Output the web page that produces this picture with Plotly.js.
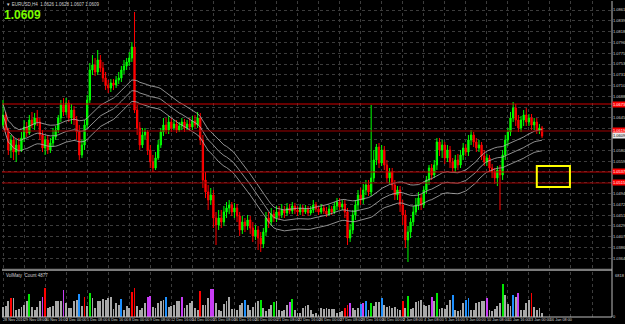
<!DOCTYPE html>
<html><head><meta charset="utf-8">
<script src="https://cdn.plot.ly/plotly-3.0.1.min.js"></script>
<style>html,body{margin:0;padding:0;background:#000;overflow:hidden}#chart{width:625px;height:324px}</style>
</head><body><div id="chart"></div>
<script>
// Prices are stored in points (1 point = 0.0001)
const PT = 0.0001;
const openPts = [
10631,10651,10621,10581,10601,10577,10591,10581,10605,10627,
10615,10641,10631,10645,10637,10611,10585,10601,10581,10595,
10607,10621,10645,10671,10657,10675,10645,10661,10641,10617,
10571,10591,10631,10681,10741,10751,10737,10761,10745,10725,
10711,10705,10715,10711,10721,10725,10741,10749,10757,10765,
10787,10661,10625,10591,10611,10617,10581,10557,10545,10565,
10591,10617,10631,10621,10637,10625,10633,10621,10629,10637,
10625,10633,10627,10639,10631,10645,10601,10521,10497,10481,
10491,10445,10431,10445,10437,10457,10465,10471,10457,10465,
10449,10421,10437,10429,10441,10425,10409,10421,10405,10393,
10417,10445,10437,10453,10445,10457,10451,10461,10455,10465,
10459,10469,10461,10457,10465,10457,10463,10455,10461,10471,
10463,10457,10465,10459,10453,10463,10457,10469,10477,10467,
10473,10457,10405,10421,10451,10471,10491,10481,10501,10511,
10497,10525,10561,10587,10555,10581,10551,10525,10537,10511,
10491,10501,10471,10451,10401,10417,10437,10457,10471,10485,
10471,10501,10521,10545,10531,10551,10597,10581,10591,10565,
10581,10557,10545,10561,10551,10571,10585,10577,10601,10611,
10597,10585,10591,10569,10557,10565,10545,10537,10525,10541,
10531,10571,10601,10617,10645,10665,10641,10625,10641,10651,
10637,10645,10631,10637,10621,10625];
const highPts = [
10681,10657,10625,10611,10609,10601,10605,10617,10641,10637,
10651,10657,10655,10661,10645,10621,10609,10611,10605,10625,
10629,10651,10681,10685,10685,10681,10673,10669,10649,10631,
10601,10641,10691,10755,10771,10765,10781,10771,10757,10737,
10721,10723,10723,10729,10737,10749,10761,10765,10777,10797,
10857,10671,10637,10625,10625,10621,10591,10571,10577,10601,
10625,10645,10645,10649,10645,10641,10641,10637,10645,10643,
10641,10645,10649,10651,10657,10655,10611,10537,10511,10505,
10501,10457,10461,10461,10469,10477,10481,10477,10475,10473,
10457,10449,10445,10451,10449,10437,10431,10429,10417,10425,
10457,10457,10465,10461,10469,10469,10473,10469,10475,10473,
10477,10475,10469,10473,10471,10471,10469,10469,10481,10477,
10469,10473,10471,10467,10471,10469,10477,10485,10485,10481,
10481,10465,10433,10461,10481,10501,10505,10513,10521,10521,
10671,10581,10593,10595,10591,10589,10561,10545,10545,10521,
10509,10509,10481,10461,10429,10445,10469,10485,10497,10493,
10509,10529,10551,10553,10561,10605,10605,10601,10597,10591,
10589,10565,10571,10573,10581,10595,10593,10611,10621,10617,
10605,10601,10597,10581,10573,10571,10553,10545,10549,10551,
10581,10611,10625,10657,10677,10673,10651,10649,10661,10665,
10653,10653,10645,10645,10633,10629];
const lowPts = [
10625,10615,10571,10565,10561,10557,10571,10577,10597,10607,
10611,10625,10621,10629,10601,10577,10571,10573,10575,10587,
10601,10615,10637,10649,10651,10637,10633,10631,10601,10561,
10565,10581,10625,10675,10731,10729,10731,10737,10717,10701,
10695,10697,10701,10705,10713,10717,10733,10741,10749,10757,
10655,10611,10581,10585,10601,10571,10545,10537,10541,10561,
10585,10609,10613,10613,10617,10621,10615,10617,10621,10617,
10621,10619,10621,10625,10625,10591,10505,10485,10461,10471,
10425,10391,10421,10425,10429,10445,10453,10449,10445,10437,
10409,10413,10417,10421,10413,10397,10401,10381,10377,10385,
10409,10425,10429,10437,10437,10441,10445,10445,10449,10453,
10453,10453,10449,10451,10449,10453,10449,10451,10455,10457,
10451,10453,10453,10447,10449,10451,10453,10461,10461,10461,
10445,10391,10397,10413,10441,10461,10471,10473,10491,10489,
10489,10517,10551,10545,10549,10541,10517,10513,10501,10481,
10481,10457,10431,10385,10357,10405,10429,10451,10461,10461,
10465,10493,10511,10521,10525,10541,10569,10565,10553,10557,
10545,10537,10537,10541,10545,10561,10569,10569,10591,10587,
10577,10577,10561,10549,10549,10537,10525,10513,10509,10461,
10521,10561,10589,10609,10637,10629,10617,10617,10629,10629,
10629,10621,10621,10613,10613,10605];
const closePts = [
10651,10621,10581,10601,10577,10591,10581,10605,10627,10615,
10641,10631,10645,10637,10611,10585,10601,10581,10595,10607,
10621,10645,10671,10657,10675,10645,10661,10641,10617,10571,
10591,10631,10681,10741,10751,10737,10761,10745,10725,10711,
10705,10715,10711,10721,10725,10741,10749,10757,10765,10787,
10661,10625,10591,10611,10617,10581,10557,10545,10565,10591,
10617,10631,10621,10637,10625,10633,10621,10629,10637,10625,
10633,10627,10639,10631,10645,10601,10521,10497,10481,10491,
10445,10431,10445,10437,10457,10465,10471,10457,10465,10449,
10421,10437,10429,10441,10425,10409,10421,10405,10393,10417,
10445,10437,10453,10445,10457,10451,10461,10455,10465,10459,
10469,10461,10457,10465,10457,10463,10455,10461,10471,10463,
10457,10465,10459,10453,10463,10457,10469,10477,10467,10473,
10457,10405,10421,10451,10471,10491,10481,10501,10511,10497,
10525,10561,10587,10555,10581,10551,10525,10537,10511,10491,
10501,10471,10451,10401,10417,10437,10457,10471,10485,10471,
10501,10521,10545,10531,10551,10597,10581,10591,10565,10581,
10557,10545,10561,10551,10571,10585,10577,10601,10611,10597,
10585,10591,10569,10557,10565,10545,10537,10525,10541,10531,
10571,10601,10617,10645,10665,10641,10625,10641,10651,10637,
10645,10631,10637,10621,10625,10609];
const volumes = [
1450,1600,2350,2850,2950,1100,1250,1450,1850,2350,
3450,1450,1100,1450,2350,3100,4350,1350,1450,1600,
2450,2450,2450,4100,2100,1350,1350,2350,2600,3450,
1600,3100,1600,3600,2850,1350,2350,2350,2750,2600,
2850,3100,1250,2100,1850,2750,1100,1600,1350,3850,
4350,1600,1100,1350,2100,3100,3250,1450,1350,2100,
2350,2600,3100,1450,1600,1850,2350,2350,3050,1350,
1850,2100,2350,1350,1100,3950,1850,1850,2850,4250,
4250,2100,1100,950,1950,2350,3100,1250,1250,1100,
1850,2100,2600,1850,1100,1450,2100,2450,2600,1350,
850,1250,1850,2250,2450,1100,850,1100,1850,2250,
2750,1100,600,600,1350,1600,1750,1100,450,600,
250,1350,1250,1350,1250,1250,1250,600,750,850,
1350,1850,2100,1350,1100,1350,1950,2100,2350,1100,
2100,1600,2250,2250,2850,1850,1450,1600,1350,1450,
1250,1100,2350,1350,3250,1200,1350,2200,2350,2600,
1750,1600,1850,3100,2450,3600,1250,1350,1250,1850,
2600,3350,1100,850,1100,2100,2600,2850,1100,1100,
2100,2250,2450,2350,2950,1100,850,1250,1600,2100,
5000,3350,1950,1600,3350,3050,3700,1100,1100,2100,
2600,3700,1450,1100,1350,600];
const volRedBars = [3,16,31,49,50,75,130,131,152,201];
const volGreenBars = [10,33,98,103,110,140,154,165,190];
const volBlueBars = [29,45,62,92,136,138,144,171,176,177,194];
const volMagentaBars = [15,23,55,56,68,79,80,109,132,137,163,184,196];

const dateTickBars = [0,8,16,24,32,40,48,56,64,72,80,88,96,104,112,120,128,136,144,152,160,168,176,184,192,200,208,216,224];
const dateTickText = ["28 Nov 2016","29 Nov 08:00","30 Nov 16:00","2 Dec 00:00","5 Dec 08:00","6 Dec 16:00","8 Dec 00:00","9 Dec 08:00","12 Dec 16:00","14 Dec 00:00","15 Dec 08:00","16 Dec 16:00","20 Dec 00:00","21 Dec 08:00","22 Dec 16:00","26 Dec 00:00","27 Dec 08:00","28 Dec 16:00","30 Dec 00:00","2 Jan 08:00","4 Jan 08:00","5 Jan 16:00","9 Jan 00:00","10 Jan 08:00","11 Jan 16:00","13 Jan 00:00","16 Jan 08:00","",""];

const levelPrices = [1.0673, 1.0619, 1.0537, 1.0515];
const lastPrice = 1.0609;
const titleText = "EURUSD,H4  1.0626 1.0628 1.0607 1.0609";
const volLabel = "VolMaty  Count 4877";
const volTopLabel = "6818";
const zoneBars = [203, 215.6];
const zonePrices = [1.0507, 1.0549];
const priceTickStart = 1.0861, priceTickStep = 0.00216, priceTickCount = 25;

const toPrice = a => a.map(v => v * PT);
const barIdx = closePts.map((_, i) => i);
const maPeriod = 28, envPct = 0.002;
const ma = closePts.map((_, i) => {
  const s = Math.max(0, i - maPeriod + 1); let sum = 0;
  for (let k = s; k <= i; k++) sum += closePts[k];
  return sum / (i - s + 1) * PT;
});
const volColors = volumes.map((_, i) =>
  volRedBars.includes(i) ? '#ff0000' : volGreenBars.includes(i) ? '#00e600' :
  volBlueBars.includes(i) ? '#1e90ff' : volMagentaBars.includes(i) ? '#c83cf5' : '#a8a8a8');

// price grid ticks; labels hidden where a level / last-price tag covers them
const allTicks = [];
for (let k = 0; k < priceTickCount; k++) allTicks.push(+(priceTickStart - k * priceTickStep).toFixed(5));
const tagPrices = levelPrices.concat([lastPrice]);
const tickText = allTicks.map(t => tagPrices.some(p => Math.abs(p - t) < 0.0011) ? '' : t.toFixed(4));

const envLine = {color:'#b4b4b4', width:0.8};
const traces = [
  {type:'scatter', mode:'lines', x:barIdx, y:ma.map(v=>v*(1+envPct)), line:envLine, hoverinfo:'skip', xaxis:'x', yaxis:'y'},
  {type:'scatter', mode:'lines', x:barIdx, y:ma, line:envLine, hoverinfo:'skip', xaxis:'x', yaxis:'y'},
  {type:'scatter', mode:'lines', x:barIdx, y:ma.map(v=>v*(1-envPct)), line:envLine, hoverinfo:'skip', xaxis:'x', yaxis:'y'},
  {type:'candlestick', x:barIdx, open:toPrice(openPts), high:toPrice(highPts), low:toPrice(lowPts), close:toPrice(closePts),
   increasing:{line:{color:'#00ff00', width:1}, fillcolor:'#00ff00'},
   decreasing:{line:{color:'#ff0000', width:1}, fillcolor:'#ff0000'},
   whiskerwidth:0, hoverinfo:'skip', xaxis:'x', yaxis:'y'},
  {type:'bar', x:barIdx, y:volumes, marker:{color:volColors, line:{width:0}}, width:0.7, hoverinfo:'skip', xaxis:'x', yaxis:'y2'}
];

const gridC = '#3c3c3c';
const shapes = [];
const levelColors = ['#d00000','#a00000','#c00000','#a00000'];
levelPrices.forEach((p, k) => shapes.push({type:'line', xref:'paper', x0:0, x1:1, yref:'y', y0:p, y1:p, line:{color:levelColors[k], width:1}}));
shapes.push({type:'rect', xref:'x', x0:zoneBars[0], x1:zoneBars[1], yref:'y', y0:zonePrices[0], y1:zonePrices[1], line:{color:'#ffff00', width:2}});
shapes.push({type:'rect', xref:'paper', x0:0, x1:1, yref:'paper', y0:0.1456, y1:0.1525, fillcolor:'#7a7a7a', line:{width:0}});
shapes.push({type:'line', xref:'paper', x0:1, x1:1, yref:'paper', y0:0, y1:1, line:{color:'#bdbdbd', width:1}});
shapes.push({type:'line', xref:'paper', x0:0, x1:1, yref:'paper', y0:0, y1:0, line:{color:'#bdbdbd', width:1}});

const smallFont = {family:'Liberation Sans', size:4.5, color:'#d0d0d0'};
const dateFont = {family:'Liberation Sans Narrow, Liberation Sans', size:3.8, color:'#d0d0d0'};
const annotations = [
  {xref:'paper', yref:'paper', x:0.004, y:1.0, xanchor:'left', yanchor:'top', yshift:1, text:'▼ '+titleText, showarrow:false, font:smallFont},
  {xref:'paper', yref:'paper', x:0.0, y:0.99, xanchor:'left', yanchor:'top', yshift:-2, text:'<b>'+lastPrice.toFixed(4)+'</b>', showarrow:false, font:{family:'Liberation Sans', size:12, color:'#7cfc00'}},
  {xref:'paper', yref:'paper', x:0.004, y:0.1440, xanchor:'left', yanchor:'top', text:volLabel, showarrow:false, font:smallFont},
  {xref:'paper', yref:'paper', x:1, y:0.1440, xanchor:'left', yanchor:'top', xshift:1, text:volTopLabel, showarrow:false, font:{family:'Liberation Sans', size:4, color:'#d0d0d0'}}
];
dateTickBars.forEach((b, k) => { if (dateTickText[k]) annotations.push({xref:'x', yref:'paper', x:b, y:0, xanchor:'left', yanchor:'top', yshift:0, xshift:-1, borderpad:0, text:dateTickText[k], showarrow:false, font:dateFont}); });
levelPrices.forEach(p => annotations.push({xref:'paper', yref:'y', x:1, y:p, xanchor:'left', yanchor:'middle', text:p.toFixed(4), showarrow:false, bgcolor:'#ff0000', borderpad:0, font:{family:'Liberation Sans', size:4, color:'#ffffff'}}));
annotations.push({xref:'paper', yref:'y', x:1, y:lastPrice, xanchor:'left', yanchor:'middle', text:lastPrice.toFixed(4), showarrow:false, bgcolor:'#e8e8e8', borderpad:0, font:{family:'Liberation Sans', size:4, color:'#000000'}});

const layout = {
  width:625, height:324,
  margin:{l:2, r:13, t:1, b:7},
  paper_bgcolor:'#000000', plot_bgcolor:'#000000',
  showlegend:false,
  xaxis:{range:[-0.4, 231.6], anchor:'y2', tickmode:'array', tickvals:dateTickBars, showticklabels:false,
    showgrid:true, gridcolor:gridC, griddash:'dot', gridwidth:1, zeroline:false, showline:false, ticks:'',
    rangeslider:{visible:false}, fixedrange:true, automargin:false},
  yaxis:{domain:[0.1551, 1], range:[1.0345, 1.0879], side:'right', tickmode:'array', tickvals:allTicks, ticktext:tickText,
    showgrid:true, gridcolor:gridC, griddash:'dot', zeroline:false, showline:false, ticks:'',
    tickfont:{family:'Liberation Sans', size:4, color:'#d0d0d0'}, automargin:false, fixedrange:true},
  yaxis2:{domain:[0, 0.1424], range:[0, 6818], side:'right', tickvals:[0], ticktext:['0'], showgrid:false, zeroline:false,
    ticks:'', tickfont:{family:'Liberation Sans', size:4, color:'#d0d0d0'}, automargin:false, fixedrange:true},
  shapes:shapes, annotations:annotations,
  bargap:0, hovermode:false
};
Plotly.newPlot('chart', traces, layout, {staticPlot:true, displayModeBar:false});
</script></body></html>
